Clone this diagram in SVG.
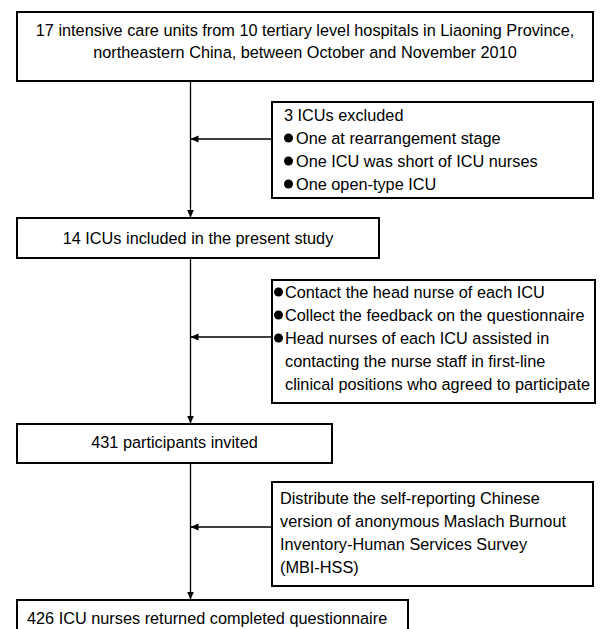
<svg xmlns="http://www.w3.org/2000/svg" width="600" height="629" viewBox="0 0 600 629">
<defs>
<marker id="arr" markerWidth="8" markerHeight="8" refX="7.5" refY="4" orient="auto" markerUnits="userSpaceOnUse" viewBox="0 0 8 8">
<path d="M0,0.5 L8,4 L0,7.5 Z" fill="#000"/>
</marker>
<style>
.box{fill:#fff;stroke:#000;stroke-width:2}
.t{font-family:"Liberation Sans",Arial,sans-serif;font-size:16.3px;fill:#000}
.c{text-anchor:middle}
.ln{stroke:#000;stroke-width:1.3;fill:none}
</style>
</defs>
<rect width="600" height="629" fill="#fff"/>
<g id="connectors">
<line class="ln" x1="190.5" y1="81" x2="190.5" y2="217" marker-end="url(#arr)"/>
<line class="ln" x1="272" y1="139" x2="191" y2="139" marker-end="url(#arr)"/>
<line class="ln" x1="190.5" y1="258" x2="190.5" y2="423" marker-end="url(#arr)"/>
<line class="ln" x1="272" y1="337" x2="191" y2="337" marker-end="url(#arr)"/>
<line class="ln" x1="190.5" y1="463" x2="190.5" y2="599" marker-end="url(#arr)"/>
<line class="ln" x1="272" y1="527" x2="191" y2="527" marker-end="url(#arr)"/>
</g>
<g id="n1">
<rect class="box" x="17" y="12" width="576" height="69"/>
<text class="t c" x="305" y="35.5">17 intensive care units from 10 tertiary level hospitals in Liaoning Province,</text>
<text class="t c" x="305" y="57.5">northeastern China, between October and November 2010</text>
</g>
<g id="n2">
<rect class="box" x="272" y="102" width="321" height="96"/>
<text class="t" x="284" y="120.5">3 ICUs excluded</text>
<circle cx="288.5" cy="138" r="4.5"/>
<circle cx="288.5" cy="161" r="4.5"/>
<circle cx="288.5" cy="184" r="4.5"/>
<text class="t" x="296" y="143.5">One at rearrangement stage</text>
<text class="t" x="296" y="166.5">One ICU was short of ICU nurses</text>
<text class="t" x="296" y="189.5">One open-type ICU</text>
</g>
<g id="n3">
<rect class="box" x="17" y="218" width="362" height="40"/>
<text class="t c" x="198" y="243.5">14 ICUs included in the present study</text>
</g>
<g id="n4">
<rect class="box" x="272" y="280" width="323" height="123"/>
<circle cx="278.5" cy="292" r="4.5"/>
<circle cx="278.5" cy="315" r="4.5"/>
<circle cx="278.5" cy="338" r="4.5"/>
<text class="t" x="285" y="297.5">Contact the head nurse of each ICU</text>
<text class="t" x="285" y="320.5">Collect the feedback on the questionnaire</text>
<text class="t" x="285" y="343.5">Head nurses of each ICU assisted in</text>
<text class="t" x="285" y="366.5">contacting the nurse staff in first-line</text>
<text class="t" x="285" y="389.5">clinical positions who agreed to participate</text>
</g>
<g id="n5">
<rect class="box" x="17" y="424" width="315" height="39"/>
<text class="t c" x="174.5" y="447.5">431 participants invited</text>
</g>
<g id="n6">
<rect class="box" x="272" y="482" width="321" height="104"/>
<text class="t" x="280" y="503.5">Distribute the self-reporting Chinese</text>
<text class="t" x="280" y="526.5">version of anonymous Maslach Burnout</text>
<text class="t" x="280" y="549.5">Inventory-Human Services Survey</text>
<text class="t" x="280" y="572.5">(MBI-HSS)</text>
</g>
<g id="n7">
<rect class="box" x="17" y="600" width="391" height="40"/>
<text class="t" x="27" y="623.5">426 ICU nurses returned completed questionnaire</text>
</g>
</svg>
